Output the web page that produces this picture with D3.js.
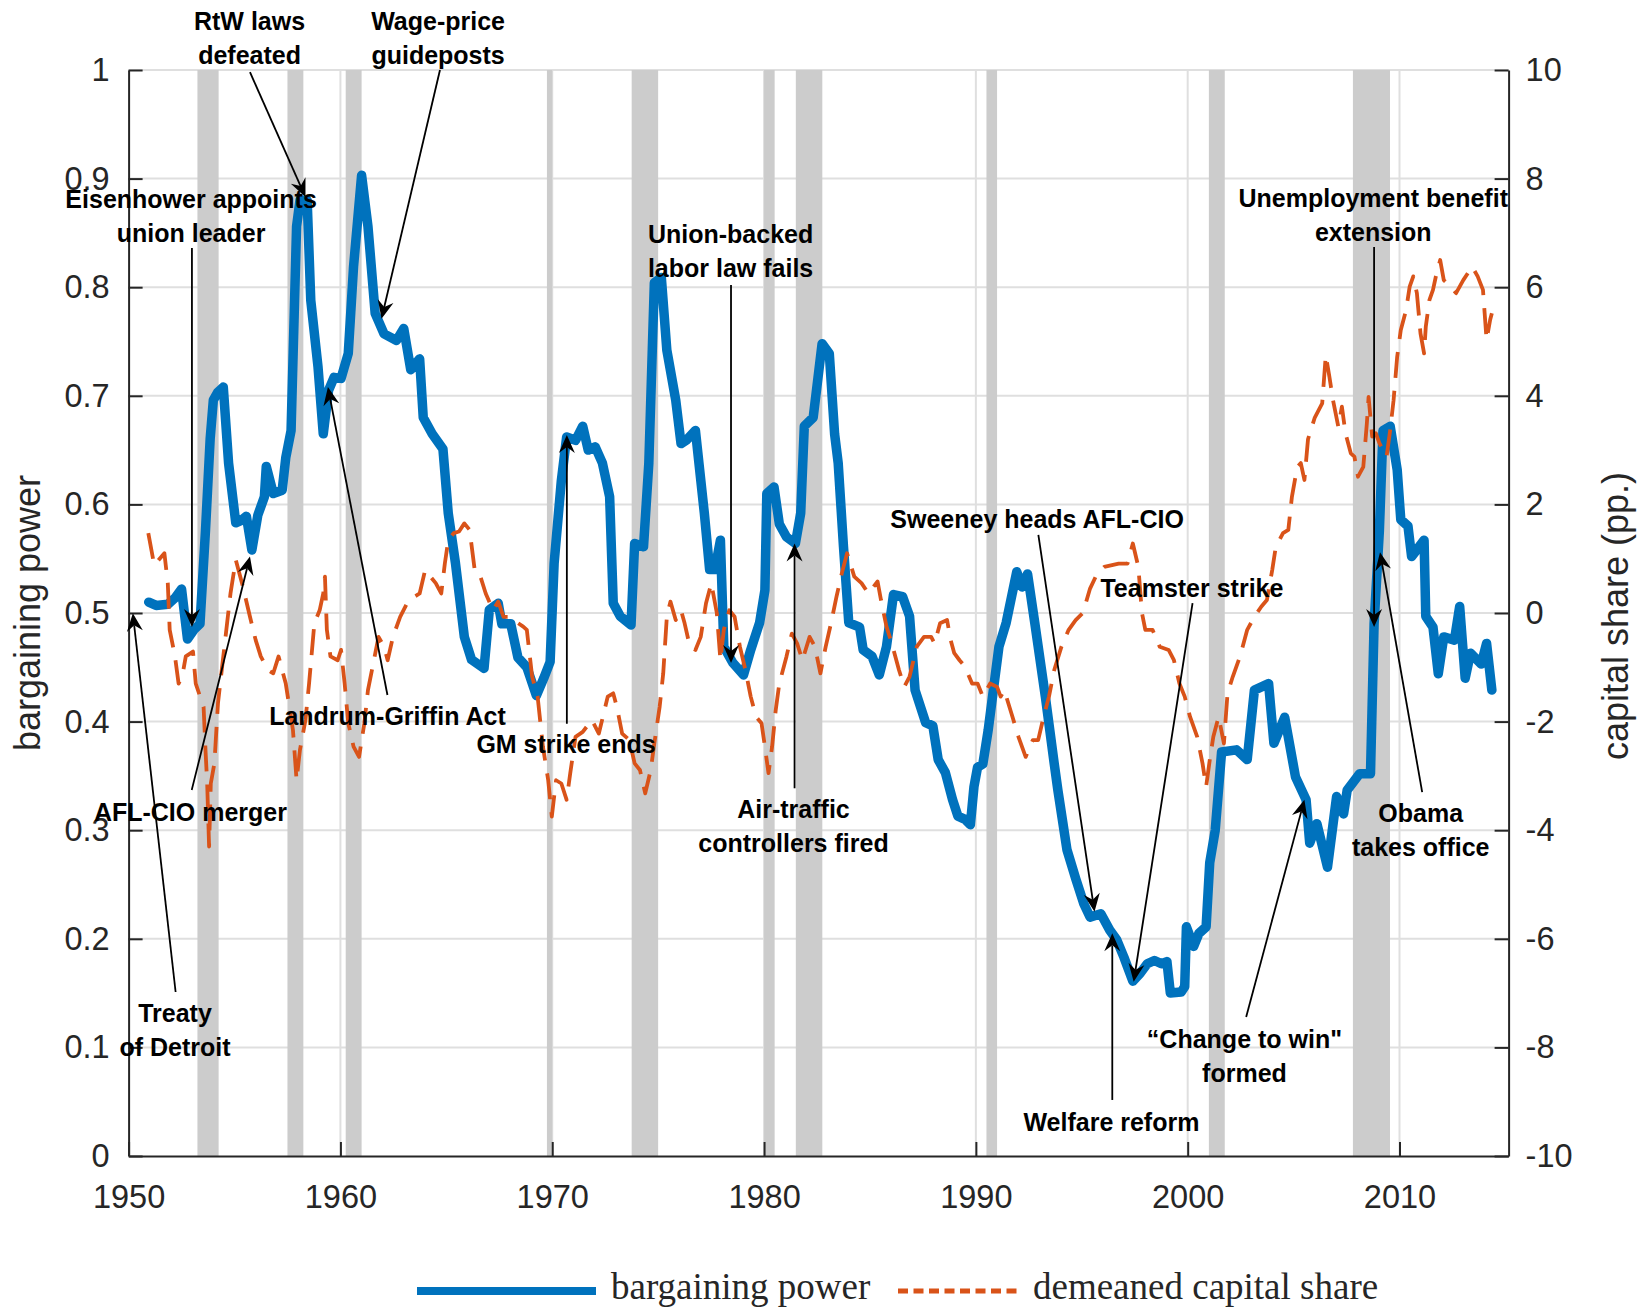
<!DOCTYPE html>
<html lang="en">
<head>
    <meta charset="UTF-8">
    <title>bargaining power</title>
    <script src="https://cdn.jsdelivr.net/npm/d3@7"></script>
    <style>body { margin: 0; background: #fff; }</style>
</head>
<body>
<script type="text/javascript">
    // bargaining power (left axis)
    var bpYears = [
        1950.95, 1951.3, 1951.85, 1952.2, 1952.5, 1952.78, 1953.1, 1953.37, 1953.63, 1953.85,
        1954.0, 1954.2, 1954.47, 1954.72, 1955.06, 1955.3, 1955.56, 1955.82, 1956.1, 1956.41,
        1956.5, 1956.83, 1957.25, 1957.42, 1957.67, 1957.93, 1958.09, 1958.43, 1958.6, 1958.94,
        1959.19, 1959.44, 1959.7, 1960.03, 1960.37, 1960.62, 1961.0, 1961.3, 1961.64, 1962.06,
        1962.65, 1962.99, 1963.32, 1963.74, 1963.91, 1964.33, 1964.84, 1965.09, 1965.43, 1965.85,
        1966.19, 1966.78, 1967.03, 1967.45, 1967.62, 1968.04, 1968.38, 1968.8, 1969.25, 1969.6,
        1969.9, 1970.09, 1970.43, 1970.68, 1971.1, 1971.44, 1971.7, 1972.03, 1972.37, 1972.71,
        1972.88, 1973.21, 1973.72, 1973.89, 1974.31, 1974.56, 1974.82, 1975.15, 1975.41, 1975.83,
        1976.08, 1976.33, 1976.76, 1977.18, 1977.43, 1977.68, 1977.94, 1978.1, 1978.53, 1979.03,
        1979.37, 1979.79, 1980.04, 1980.13, 1980.47, 1980.72, 1981.06, 1981.48, 1981.73, 1981.9,
        1982.32, 1982.74, 1983.08, 1983.33, 1983.5, 1983.75, 1984.0, 1984.51, 1984.68, 1985.1,
        1985.44, 1985.78, 1986.11, 1986.54, 1986.87, 1987.13, 1987.63, 1987.97, 1988.22, 1988.56,
        1988.9, 1989.15, 1989.49, 1989.74, 1989.91, 1990.08, 1990.33, 1990.58, 1991.09, 1991.43,
        1991.93, 1992.18, 1992.44, 1992.78, 1993.28, 1993.7, 1993.87, 1994.3, 1994.72, 1995.1,
        1995.39, 1995.9, 1996.32, 1996.65, 1996.99, 1997.41, 1997.75, 1998.09, 1998.43, 1998.76,
        1999.02, 1999.18, 1999.69, 1999.86, 1999.94, 2000.28, 2000.53, 2000.87, 2001.04, 2001.3,
        2001.6, 2002.3, 2002.81, 2003.15, 2003.82, 2004.07, 2004.58, 2005.09, 2005.59, 2005.76,
        2006.1, 2006.6, 2007.03, 2007.36, 2007.53, 2008.12, 2008.63, 2008.8, 2009.05, 2009.22,
        2009.56, 2009.89, 2010.06, 2010.4, 2010.57, 2011.16, 2011.24, 2011.58, 2011.83, 2012.09,
        2012.59, 2012.84, 2013.1, 2013.35, 2013.86, 2014.11, 2014.36
    ];
    var bpValues = [
        0.510, 0.507, 0.508, 0.514, 0.522, 0.476, 0.485, 0.490, 0.576, 0.660,
        0.696, 0.703, 0.708, 0.638, 0.583, 0.585, 0.589, 0.558, 0.590, 0.607,
        0.635, 0.610, 0.613, 0.643, 0.668, 0.856, 0.880, 0.880, 0.788, 0.727,
        0.665, 0.705, 0.717, 0.716, 0.739, 0.819, 0.903, 0.856, 0.776, 0.757,
        0.751, 0.762, 0.724, 0.734, 0.680, 0.665, 0.651, 0.592, 0.546, 0.478,
        0.457, 0.449, 0.503, 0.509, 0.490, 0.490, 0.459, 0.450, 0.424, 0.440,
        0.455, 0.546, 0.622, 0.662, 0.659, 0.672, 0.650, 0.653, 0.638, 0.607,
        0.509, 0.497, 0.489, 0.564, 0.561, 0.638, 0.804, 0.809, 0.742, 0.696,
        0.656, 0.659, 0.668, 0.592, 0.540, 0.540, 0.567, 0.469, 0.454, 0.443,
        0.466, 0.491, 0.521, 0.610, 0.616, 0.582, 0.570, 0.564, 0.592, 0.672,
        0.680, 0.748, 0.739, 0.665, 0.638, 0.561, 0.491, 0.487, 0.466, 0.460,
        0.443, 0.469, 0.517, 0.515, 0.497, 0.429, 0.399, 0.396, 0.365, 0.353,
        0.328, 0.313, 0.310, 0.305, 0.340, 0.358, 0.361, 0.392, 0.469, 0.491,
        0.538, 0.524, 0.536, 0.491, 0.423, 0.361, 0.337, 0.282, 0.255, 0.232,
        0.220, 0.223, 0.208, 0.199, 0.183, 0.161, 0.168, 0.177, 0.180, 0.177,
        0.179, 0.150, 0.151, 0.156, 0.211, 0.193, 0.205, 0.211, 0.270, 0.300,
        0.372, 0.374, 0.365, 0.429, 0.435, 0.380, 0.404, 0.349, 0.328, 0.288,
        0.306, 0.266, 0.331, 0.315, 0.337, 0.352, 0.352, 0.490, 0.576, 0.668,
        0.672, 0.632, 0.586, 0.580, 0.552, 0.567, 0.497, 0.487, 0.444, 0.478,
        0.475, 0.506, 0.440, 0.463, 0.453, 0.472, 0.429
    ];

    // demeaned capital share, pp. (right axis)
    var csYears = [
        1950.93, 1951.21, 1951.69, 1951.85, 1951.94, 1952.19, 1952.36, 1952.53, 1952.7, 1953.04,
        1953.17, 1953.54, 1953.63, 1953.71, 1953.8, 1953.88, 1954.05, 1954.22, 1954.47, 1954.81,
        1955.06, 1955.4, 1955.73, 1956.0, 1956.24, 1956.58, 1956.83, 1957.08, 1957.42, 1957.76,
        1957.93, 1958.09, 1958.35, 1958.52, 1958.77, 1959.02, 1959.19, 1959.27, 1959.36, 1959.53,
        1959.87, 1960.03, 1960.2, 1960.37, 1960.62, 1960.88, 1961.13, 1961.3, 1961.55, 1961.8,
        1962.06, 1962.23, 1962.48, 1962.82, 1963.15, 1963.49, 1963.74, 1964.0, 1964.25, 1964.5,
        1964.76, 1964.93, 1965.09, 1965.35, 1965.6, 1965.85, 1966.1, 1966.36, 1966.61, 1966.86,
        1967.2, 1967.45, 1967.7, 1968.04, 1968.29, 1968.63, 1968.8, 1969.05, 1969.31, 1969.56,
        1969.81, 1969.98, 1970.18, 1970.43, 1970.68, 1970.85, 1971.1, 1971.44, 1971.87, 1972.2,
        1972.62, 1972.88, 1973.05, 1973.3, 1973.64, 1973.89, 1974.14, 1974.39, 1974.65, 1974.82,
        1975.07, 1975.24, 1975.41, 1975.58, 1975.83, 1976.08, 1976.25, 1976.5, 1976.76, 1977.01,
        1977.26, 1977.51, 1977.77, 1977.94, 1978.1, 1978.36, 1978.61, 1978.86, 1979.12, 1979.37,
        1979.62, 1979.88, 1980.04, 1980.21, 1980.38, 1980.55, 1980.72, 1981.06, 1981.31, 1981.56,
        1981.81, 1982.15, 1982.4, 1982.66, 1982.91, 1983.16, 1983.42, 1983.67, 1983.92, 1984.26,
        1984.6, 1984.93, 1985.36, 1985.52, 1985.78, 1986.03, 1986.37, 1986.62, 1986.87, 1987.21,
        1987.55, 1987.89, 1988.05, 1988.31, 1988.64, 1988.81, 1988.98, 1989.23, 1989.49, 1989.82,
        1990.08, 1990.33, 1990.67, 1991.0, 1991.17, 1991.34, 1991.68, 1992.01, 1992.35, 1992.69,
        1992.94, 1993.2, 1993.45, 1993.7, 1994.04, 1994.38, 1994.71, 1995.05, 1995.39, 1995.73,
        1996.06, 1996.74, 1997.16, 1997.41, 1997.67, 1997.84, 1998.0, 1998.34, 1998.68, 1999.1,
        1999.35, 1999.61, 1999.86, 2000.11, 2000.45, 2000.7, 2000.87, 2001.04, 2001.21, 2001.46,
        2001.71, 2001.88, 2002.13, 2002.47, 2002.81, 2003.15, 2003.48, 2003.74, 2003.99, 2004.16,
        2004.5, 2004.75, 2004.92, 2005.17, 2005.34, 2005.51, 2005.68, 2006.0, 2006.35, 2006.52,
        2006.69, 2006.86, 2007.11, 2007.28, 2007.45, 2007.7, 2007.87, 2008.04, 2008.29, 2008.46,
        2008.54, 2008.71, 2008.88, 2009.05, 2009.39, 2009.56, 2009.72, 2009.89, 2010.06, 2010.31,
        2010.48, 2010.65, 2010.82, 2010.99, 2011.16, 2011.24, 2011.41, 2011.58, 2011.75, 2011.92,
        2012.09, 2012.42, 2012.67, 2013.01, 2013.43, 2013.69, 2013.94, 2014.02, 2014.11, 2014.28,
        2014.36
    ];
    var csValues = [
        1.47, 0.88, 1.10, 0.55, -0.31, -0.80, -1.30, -1.17, -0.80, -0.71,
        -1.30, -1.73, -2.52, -3.14, -4.30, -3.14, -2.77, -1.66, -0.80, 0.36,
        0.98, 0.48, -0.07, -0.50, -0.80, -1.05, -1.11, -0.80, -1.30, -2.16,
        -3.08, -2.52, -1.97, -1.30, -0.19, 0.05, 0.36, 0.67, -0.31, -0.80,
        -0.87, -0.68, -1.30, -2.03, -2.46, -2.65, -2.03, -1.42, -0.93, -0.44,
        -0.62, -0.87, -0.44, -0.07, 0.18, 0.30, 0.36, 0.79, 0.67, 0.55,
        0.36, 0.91, 1.34, 1.47, 1.50, 1.65, 1.53, 0.73, 0.67, 0.36,
        0.05, 0.21, -0.07, -0.07, -0.16, -0.25, -0.31, -1.17, -1.54, -2.46,
        -3.08, -3.75, -3.08, -3.14, -3.44, -2.95, -2.28, -2.19, -1.97, -2.22,
        -1.54, -1.48, -1.73, -2.22, -2.34, -2.77, -2.89, -3.32, -2.89, -2.40,
        -1.73, -1.11, -0.07, 0.21, -0.13, 0.05, -0.19, -0.62, -0.68, -0.44,
        0.18, 0.55, 0.00, -0.87, -0.31, 0.05, -0.07, -0.62, -1.05, -1.54,
        -1.91, -2.03, -2.46, -2.95, -2.46, -1.79, -1.30, -0.80, -0.38, -0.56,
        -0.87, -0.44, -0.62, -1.11, -0.62, -0.19, 0.30, 0.73, 1.10, 0.67,
        0.55, 0.36, 0.58, 0.24, -0.25, -0.56, -1.05, -1.36, -1.17, -0.62,
        -0.44, -0.44, -0.56, -0.19, -0.13, -0.50, -0.74, -0.87, -0.99, -1.30,
        -1.30, -1.54, -1.30, -1.36, -1.54, -1.42, -1.85, -2.28, -2.65, -2.34,
        -2.34, -1.91, -1.54, -1.05, -0.62, -0.31, -0.13, 0.00, 0.45, 0.73,
        0.85, 0.91, 0.91, 1.28, 0.85, 0.00, -0.31, -0.31, -0.62, -0.68,
        -0.87, -1.30, -1.54, -1.91, -2.28, -2.77, -3.20, -2.71, -2.28, -1.91,
        -2.40, -1.48, -1.17, -0.80, -0.31, -0.07, 0.12, 0.24, 0.79, 1.22,
        1.47, 1.53, 2.14, 2.69, 2.76, 2.45, 3.20, 3.60, 3.86, 4.75,
        4.35, 3.92, 3.43, 3.80, 3.31, 2.94, 2.88, 2.51, 2.69, 3.50,
        3.98, 3.25, 3.31, 3.13, 2.88, 3.37, 3.92, 4.72, 5.21, 5.58,
        6.01, 6.20, 5.89, 5.15, 4.78, 5.27, 5.76, 5.95, 6.26, 6.50,
        6.13, 6.01, 5.89, 6.13, 6.38, 6.20, 5.95, 5.52, 5.03, 5.40,
        5.52
    ];

    // recession bands (start, end)
    var recStart = [1953.25, 1957.5, 1960.25, 1969.75, 1973.75, 1980.0, 1981.5, 1990.5, 2001.0, 2007.8];
    var recEnd = [1954.25, 1958.25, 1961.0, 1970.0, 1975.0, 1980.5, 1982.75, 1991.0, 2001.75, 2009.55];

    var xTicks = [1950, 1960, 1970, 1980, 1990, 2000, 2010];
    var yLeftTicks = [0, 0.1, 0.2, 0.3, 0.4, 0.5, 0.6, 0.7, 0.8, 0.9, 1];
    var yRightTicks = [-10, -8, -6, -4, -2, 0, 2, 4, 6, 8, 10];

    var seriesNames = ['bargaining power', 'demeaned capital share'];

    // annotations: label centre, arrow start and arrow tip, all in (year, bargaining power)
    var notes = [
        {lines: ['RtW laws', 'defeated'], label: [1955.71, 1.045], from: [1955.73, 0.998], to: [1958.35, 0.883]},
        {lines: ['Wage-price', 'guideposts'], label: [1964.61, 1.045], from: [1964.70, 1.0], to: [1961.94, 0.771]},
        {lines: ['Eisenhower appoints', 'union leader'], label: [1952.95, 0.881], from: [1952.99, 0.836], to: [1952.99, 0.487]},
        {lines: ['Landrum-Griffin Act'], label: [1962.22, 0.405], from: [1962.22, 0.4245], to: [1959.41, 0.708]},
        {lines: ['AFL-CIO merger'], label: [1952.92, 0.317], from: [1952.98, 0.337], to: [1955.73, 0.552]},
        {lines: ['Treaty', 'of Detroit'], label: [1952.19, 0.132], from: [1952.22, 0.151], to: [1950.2, 0.4997]},
        {lines: ['GM strike ends'], label: [1970.65, 0.379], from: [1970.69, 0.398], to: [1970.69, 0.664]},
        {lines: ['Union-backed', 'labor law fails'], label: [1978.42, 0.849], from: [1978.44, 0.802], to: [1978.44, 0.454]},
        {lines: ['Air-traffic', 'controllers fired'], label: [1981.39, 0.3195], from: [1981.44, 0.3386], to: [1981.44, 0.564]},
        {lines: ['Sweeney heads AFL-CIO'], label: [1992.89, 0.587], from: [1992.95, 0.572], to: [1995.6, 0.225]},
        {lines: ['Teamster strike'], label: [2000.2, 0.523], from: [2000.23, 0.509], to: [1997.45, 0.1605]},
        {lines: ['Welfare reform'], label: [1996.4, 0.0316], from: [1996.44, 0.0516], to: [1996.44, 0.205]},
        {lines: ['\u201cChange to win"', 'formed'], label: [2002.68, 0.1077], from: [2002.76, 0.128], to: [2005.51, 0.328]},
        {lines: ['Unemployment benefit', 'extension'], label: [2008.76, 0.882], from: [2008.8, 0.837], to: [2008.8, 0.487]},
        {lines: ['Obama', 'takes office'], label: [2011.0, 0.316], from: [2011.07, 0.335], to: [2009.08, 0.556]}
    ];

    var width = 1644;
    var height = 1309;
    var plotLeft = 128.6, plotRight = 1508.6, plotTop = 70, plotBottom = 1156;
    var blue = '#0072BD';
    var orange = '#D95319';
    var axisColor = '#262626';
    var sans = "'Liberation Sans', Arial, Helvetica, sans-serif";

    var svg = d3.select('body').append('svg')
            .attr('width', width)
            .attr('height', height);

    var x = d3.scaleLinear().domain([1950, 2015.15]).range([plotLeft, plotRight]);
    var yL = d3.scaleLinear().domain([0, 1]).range([plotBottom, plotTop]);
    var yR = d3.scaleLinear().domain([-10, 10]).range([plotBottom, plotTop]);

    // grid
    svg.append('g').selectAll('line')
            .data(xTicks.slice(1))
            .enter()
            .append('line')
            .attr('x1', function (d) { return x(d); })
            .attr('x2', function (d) { return x(d); })
            .attr('y1', plotTop)
            .attr('y2', plotBottom)
            .attr('stroke', '#dfdfdf')
            .attr('stroke-width', 2);
    svg.append('g').selectAll('line')
            .data(yLeftTicks.slice(1))
            .enter()
            .append('line')
            .attr('x1', plotLeft)
            .attr('x2', plotRight)
            .attr('y1', function (d) { return yL(d); })
            .attr('y2', function (d) { return yL(d); })
            .attr('stroke', '#dfdfdf')
            .attr('stroke-width', 2);

    // recessions
    svg.append('g').selectAll('rect')
            .data(recStart)
            .enter()
            .append('rect')
            .attr('x', function (d) { return x(d); })
            .attr('width', function (d, i) { return x(recEnd[i]) - x(d); })
            .attr('y', plotTop)
            .attr('height', plotBottom - plotTop)
            .attr('fill', '#cccccc');

    // series
    var bpData = bpYears.map(function (d, i) { return [d, bpValues[i]]; });
    var csData = csYears.map(function (d, i) { return [d, csValues[i]]; });

    var bpLine = d3.line()
            .x(function (d) { return x(d[0]); })
            .y(function (d) { return yL(d[1]); });
    var csLine = d3.line()
            .x(function (d) { return x(d[0]); })
            .y(function (d) { return yR(d[1]); });

    svg.append('path')
            .datum(bpData)
            .attr('d', bpLine)
            .attr('fill', 'none')
            .attr('stroke', blue)
            .attr('stroke-width', 9.5)
            .attr('stroke-linejoin', 'round')
            .attr('stroke-linecap', 'round');

    svg.append('path')
            .datum(csData)
            .attr('d', csLine)
            .attr('fill', 'none')
            .attr('stroke', orange)
            .attr('stroke-width', 3.8)
            .attr('stroke-dasharray', '26,13')
            .attr('stroke-linejoin', 'round');

    // axes
    function styleAxis(g) {
        g.attr('font-size', 32.5)
                .attr('font-family', sans)
                .attr('color', axisColor);
        g.select('.domain').attr('stroke-width', 2);
        g.selectAll('.tick line').attr('stroke-width', 2);
    }
    function plainNumber(d) {
        return String(+d.toFixed(1));
    }

    svg.append('g')
            .attr('transform', 'translate(0,' + plotBottom + ')')
            .call(d3.axisBottom(x).tickValues(xTicks).tickFormat(plainNumber)
                    .tickSizeInner(-14).tickSizeOuter(0).tickPadding(29))
            .call(styleAxis);

    svg.append('g')
            .attr('transform', 'translate(' + plotLeft + ',0)')
            .call(d3.axisLeft(yL).tickValues(yLeftTicks).tickFormat(plainNumber)
                    .tickSizeInner(-14).tickSizeOuter(0).tickPadding(19))
            .call(styleAxis);

    svg.append('g')
            .attr('transform', 'translate(' + plotRight + ',0)')
            .call(d3.axisRight(yR).tickValues(yRightTicks).tickFormat(plainNumber)
                    .tickSizeInner(-14).tickSizeOuter(0).tickPadding(17))
            .call(styleAxis);

    // axis titles
    svg.append('text')
            .attr('transform', 'translate(40,' + (plotTop + plotBottom) / 2 + ') rotate(-90)')
            .attr('text-anchor', 'middle')
            .attr('font-family', sans)
            .attr('font-size', 36)
            .attr('fill', axisColor)
            .text('bargaining power');
    svg.append('text')
            .attr('transform', 'translate(1628,' + ((plotTop + plotBottom) / 2 + 3) + ') rotate(-90)')
            .attr('text-anchor', 'middle')
            .attr('font-family', sans)
            .attr('font-size', 36)
            .attr('fill', axisColor)
            .text('capital share (pp.)');

    // annotations
    function headPoints(x1, y1, x2, y2) {
        var a = Math.atan2(y2 - y1, x2 - x1);
        var len = 18, half = 8, notch = 12;
        var c = Math.cos(a), s = Math.sin(a);
        return [
            [x2, y2],
            [x2 - len * c + half * s, y2 - len * s - half * c],
            [x2 - notch * c, y2 - notch * s],
            [x2 - len * c - half * s, y2 - len * s + half * c]
        ];
    }

    var noteG = svg.append('g');
    notes.forEach(function (n) {
        var x1 = x(n.from[0]), y1 = yL(n.from[1]);
        var x2 = x(n.to[0]), y2 = yL(n.to[1]);
        var pts = headPoints(x1, y1, x2, y2);
        noteG.append('line')
                .attr('x1', x1).attr('y1', y1)
                .attr('x2', pts[2][0]).attr('y2', pts[2][1])
                .attr('stroke', '#000')
                .attr('stroke-width', 1.8);
        noteG.append('polygon')
                .attr('points', pts.map(function (p) { return p.join(','); }).join(' '))
                .attr('fill', '#000');
        noteG.append('g').selectAll('text')
                .data(n.lines)
                .enter()
                .append('text')
                .attr('x', x(n.label[0]))
                .attr('y', function (d, i) { return yL(n.label[1]) + i * 34; })
                .attr('dy', '0.36em')
                .attr('text-anchor', 'middle')
                .attr('font-family', sans)
                .attr('font-weight', 'bold')
                .attr('font-size', 25)
                .attr('fill', '#000')
                .text(function (d) { return d; });
    });

    // legend
    var legend = svg.append('g').attr('transform', 'translate(0,1291)');
    legend.append('line')
            .attr('x1', 417).attr('x2', 596)
            .attr('stroke', blue)
            .attr('stroke-width', 8);
    legend.append('text')
            .attr('x', 611).attr('y', 8)
            .attr('font-family', "'Liberation Serif', 'Times New Roman', serif")
            .attr('font-size', 37)
            .attr('fill', axisColor)
            .text(seriesNames[0]);
    legend.append('line')
            .attr('x1', 898).attr('x2', 1018)
            .attr('stroke', orange)
            .attr('stroke-width', 5)
            .attr('stroke-dasharray', '10,5.5');
    legend.append('text')
            .attr('x', 1033).attr('y', 8)
            .attr('font-family', "'Liberation Serif', 'Times New Roman', serif")
            .attr('font-size', 37)
            .attr('fill', axisColor)
            .text(seriesNames[1]);
</script>
</body>
</html>
